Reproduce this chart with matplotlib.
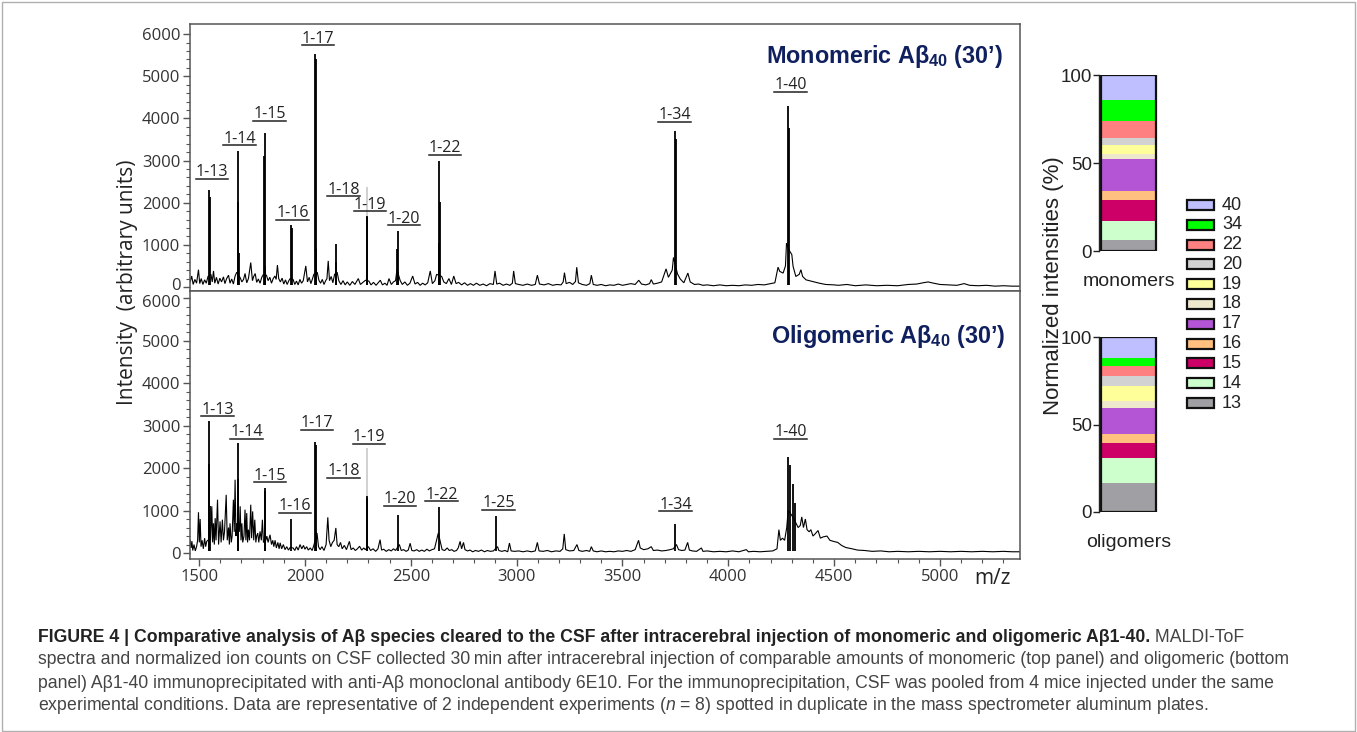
import numpy as np
import matplotlib
matplotlib.use('Agg')
import matplotlib.pyplot as plt
import matplotlib.transforms as mtransforms
from matplotlib.patches import Rectangle
from matplotlib.lines import Line2D

plt.rcParams['mathtext.fontset'] = 'custom'
plt.rcParams['mathtext.rm'] = 'Liberation Sans:bold'
plt.rcParams['mathtext.bf'] = 'Liberation Sans:bold'
plt.rcParams['mathtext.it'] = 'Liberation Sans:italic'

# ---------------- data: monomeric spectrum (top) ----------------
top_trace = [(1458,120),(1465,260),(1472,60),(1480,180),(1488,90),(1497,410),(1503,80),(1510,200),(1518,60),
    (1526,170),(1534,90),(1542,250),(1556,300),(1562,120),(1568,380),(1574,90),(1582,230),(1590,70),
    (1598,210),(1606,120),(1615,240),(1622,80),(1630,200),(1639,280),(1646,90),(1654,190),(1662,70),(1670,260),
    (1678,350),(1694,220),(1702,120),(1710,180),(1717,320),(1725,100),(1733,200),(1744,580),(1752,150),(1758,250),
    (1765,320),(1772,110),(1780,190),(1788,90),(1796,230),(1804,300),(1818,280),(1826,150),(1834,230),(1842,90),
    (1850,200),(1858,260),(1864,180),(1870,520),(1876,200),(1884,120),(1892,210),(1900,70),(1908,170),(1916,60),
    (1924,150),(1930,200),(1944,180),(1952,60),(1960,140),(1968,50),(1976,180),(1984,90),(1992,150),(2004,500),
    (2012,120),(2020,230),(2028,80),(2036,200),(2042,300),(2058,350),(2066,160),(2074,90),(2082,180),(2090,60),
    (2098,150),(2104,200),(2110,620),(2116,150),(2124,250),(2132,100),(2140,300),(2152,350),(2160,150),(2170,60),
    (2180,150),(2190,50),(2200,120),(2212,40),(2224,130),(2236,60),(2252,200),(2262,60),(2274,110),(2286,160),
    (2302,140),(2312,50),(2324,110),(2336,40),(2346,100),(2356,160),(2366,50),(2378,90),(2388,40),(2397,200),
    (2408,60),(2418,120),(2428,150),(2435,410),(2450,150),(2460,60),(2472,120),(2484,40),(2496,90),(2509,260),
    (2520,70),(2532,110),(2544,40),(2556,90),(2568,50),(2580,100),(2592,380),(2602,80),(2614,150),(2622,300),
    (2646,250),(2656,120),(2668,80),(2680,200),(2692,60),(2703,260),(2714,80),(2726,110),(2740,50),(2754,100),
    (2768,40),(2782,80),(2796,40),(2810,90),(2826,40),(2842,70),(2858,30),(2874,80),(2890,60),(2898,380),
    (2906,70),(2920,90),(2936,40),(2952,70),(2968,40),(2980,90),(2986,380),(2994,80),(3010,60),(3030,40),
    (3050,70),(3070,40),(3088,60),(3098,280),(3108,70),(3130,50),(3150,80),(3170,40),(3190,60),(3210,50),
    (3220,120),(3226,340),(3234,80),(3250,110),(3265,60),(3278,130),(3284,470),(3292,100),(3310,60),(3330,40),
    (3346,80),(3353,280),(3362,60),(3380,40),(3400,60),(3420,30),(3440,50),(3460,40),(3480,70),(3500,40),
    (3520,60),(3540,80),(3560,60),(3577,160),(3590,70),(3610,50),(3628,80),(3636,175),(3646,70),(3665,90),
    (3685,120),(3706,430),(3717,230),(3735,400),(3741,700),(3760,310),(3773,190),(3790,100),(3809,330),(3820,120),
    (3840,60),(3860,70),(3880,40),(3900,50),(3930,30),(3960,50),(3990,30),(4020,40),(4050,30),(4080,50),
    (4110,40),(4140,60),(4170,50),(4200,80),(4220,100),(4235,470),(4243,370),(4259,330),(4270,500),(4275,1040),
    (4290,850),(4300,770),(4306,490),(4319,250),(4335,300),(4343,410),(4351,250),(4367,170),(4398,130),(4430,90),
    (4460,60),(4500,50),(4520,40),(4560,60),(4600,30),(4650,50),(4700,30),(4750,40),(4800,30),(4850,60),
    (4890,70),(4920,100),(4944,120),(4970,90),(5000,60),(5040,50),(5080,40),(5114,80),(5140,40),(5180,30),
    (5220,40),(5260,20),(5300,30),(5340,20),(5380,20)]
top_peak_mz  = [1547, 1550, 1686, 1684, 1688, 1810, 1808, 1812, 1936, 1937, 2048, 2050, 2052, 2146, 2148,
                2294, 2295, 2439, 2437, 2441, 2635, 2636, 2633, 3749, 3751, 4282, 4285]
top_peak_int = [2310, 2130, 3220, 2020, 800, 3660, 3100, 500, 1460, 1400, 5530, 5400, 900, 1010, 600,
                1680, 1650, 1330, 900, 350, 3000, 2020, 1040, 3690, 3500, 4290, 3780]
top_labels    = ['1-13', '1-14', '1-15', '1-16', '1-17', '1-18', '1-19', '1-20', '1-22', '1-34', '1-40']
top_label_mz  = [1560, 1691, 1832, 1942, 2061, 2182, 2308, 2468, 2662, 3745, 4295]
top_label_int = [2727, 3518, 4095, 1755, 5889, 2308, 1953, 1621, 3296, 4079, 4790]

# ---------------- data: oligomeric spectrum (bottom) ----------------
bot_trace = [(1458,300),(1462,120),(1466,280),(1470,60),(1476,200),(1482,50),(1488,150),(1493,300),(1497,960),
    (1501,250),(1505,800),(1509,150),(1514,300),(1520,100),(1526,350),(1531,150),(1536,275),(1541,300),
    (1554,300),(1560,1100),(1564,250),(1568,700),(1572,200),(1576,820),(1580,300),(1587,1255),(1592,200),
    (1599,745),(1604,250),(1610,785),(1615,300),(1620,500),(1628,1370),(1633,300),(1639,600),(1643,200),
    (1646,700),(1652,250),(1656,400),(1662,1255),(1666,500),(1670,1725),(1674,400),(1678,700),(1690,500),
    (1694,1100),(1698,300),(1702,700),(1706,250),(1712,400),(1717,1020),(1721,300),(1725,940),(1729,250),
    (1733,550),(1738,300),(1744,1137),(1748,350),(1753,980),(1758,300),(1763,784),(1768,250),(1772,400),
    (1777,470),(1782,250),(1788,510),(1794,300),(1799,784),(1804,250),(1815,300),(1820,400),(1826,250),
    (1835,430),(1842,200),(1848,300),(1853,150),(1859,300),(1865,120),(1872,250),(1878,100),(1883,240),
    (1890,100),(1898,200),(1906,80),(1914,150),(1922,70),(1930,130),(1944,120),(1952,60),(1960,150),(1968,70),
    (1977,200),(1985,100),(1993,180),(2000,90),(2008,150),(2016,70),(2025,120),(2034,60),(2042,180),(2057,470),
    (2064,150),(2072,80),(2080,150),(2090,60),(2100,200),(2108,840),(2114,300),(2122,150),(2130,250),(2138,300),
    (2146,590),(2152,200),(2160,150),(2168,250),(2176,100),(2186,180),(2196,80),(2210,275),(2218,80),(2228,120),
    (2238,60),(2248,100),(2258,160),(2268,70),(2278,120),(2285,80),(2300,150),(2310,60),(2322,100),(2334,40),
    (2345,100),(2355,315),(2362,70),(2372,90),(2384,40),(2396,80),(2408,50),(2418,100),(2428,60),(2446,200),
    (2455,60),(2466,80),(2478,40),(2488,70),(2497,230),(2505,60),(2516,50),(2528,80),(2540,40),(2552,70),
    (2564,40),(2576,90),(2588,50),(2600,80),(2612,100),(2622,300),(2630,470),(2640,250),(2648,80),(2660,60),
    (2672,120),(2682,60),(2694,80),(2704,40),(2716,60),(2724,120),(2733,275),(2740,100),(2749,250),(2756,80),
    (2768,50),(2780,70),(2792,30),(2806,60),(2820,40),(2834,70),(2848,30),(2862,60),(2876,40),(2890,50),
    (2910,150),(2916,60),(2930,40),(2945,60),(2958,30),(2966,235),(2974,50),(2990,40),(3010,50),(3030,30),
    (3050,50),(3070,30),(3088,50),(3098,250),(3106,50),(3125,40),(3145,60),(3165,30),(3185,50),(3205,40),
    (3218,100),(3225,450),(3232,80),(3250,50),(3270,60),(3285,200),(3294,60),(3310,40),(3330,60),(3345,40),
    (3353,150),(3362,50),(3380,30),(3400,50),(3420,30),(3440,40),(3460,30),(3480,50),(3500,40),(3520,60),
    (3540,40),(3560,80),(3576,300),(3584,120),(3600,80),(3620,100),(3636,150),(3646,60),(3665,70),(3685,50),
    (3705,60),(3725,80),(3740,100),(3755,200),(3765,80),(3780,60),(3795,70),(3808,250),(3816,70),(3830,50),
    (3850,40),(3873,120),(3880,40),(3900,50),(3930,30),(3960,40),(3990,30),(4020,50),(4050,30),(4085,80),
    (4095,30),(4120,40),(4150,30),(4180,40),(4210,50),(4230,100),(4239,550),(4246,300),(4256,350),(4266,300),
    (4276,600),(4283,1000),(4298,900),(4310,800),(4320,700),(4330,600),(4340,650),(4347,850),(4355,600),
    (4364,800),(4372,550),(4382,500),(4390,550),(4400,400),(4410,450),(4424,530),(4435,350),(4448,380),
    (4466,400),(4480,300),(4500,270),(4517,250),(4535,180),(4555,130),(4585,100),(4610,70),(4644,60),(4680,40),
    (4720,50),(4760,30),(4800,40),(4850,30),(4900,40),(4950,30),(5000,40),(5050,30),(5100,40),(5150,30),
    (5200,40),(5250,30),(5300,40),(5340,30),(5380,30)]
bot_peak_mz  = [1547, 1549, 1551, 1684, 1682, 1686, 1809, 1810, 1936, 2048, 2050, 2052, 2292, 2293,
                2439, 2635, 2903, 3747, 4283, 4293, 4305, 4313]
bot_peak_int = [3100, 2090, 1100, 2590, 1740, 1000, 1530, 1450, 800, 2610, 2550, 500, 1350, 1300,
                890, 1075, 880, 675, 2260, 2060, 1630, 1180]
bot_labels    = ['1-13', '1-14', '1-15', '1-16', '1-17', '1-18', '1-19', '1-20', '1-22', '1-25', '1-34', '1-40']
bot_label_mz  = [1587, 1725, 1835, 1953, 2056, 2182, 2303, 2450, 2646, 2914, 3750, 4295]
bot_label_int = [3373, 2847, 1820, 1098, 3059, 1922, 2722, 1271, 1373, 1176, 1137, 2847]

# faint grey artefact line above the 1-19 peak (m/z, from, to)
ghost_top = (2294, 1680, 2370)
ghost_bot = (2292, 1350, 2470)

# ---------------- data: normalized intensities ----------------
species    = ['13', '14', '15', '16', '17', '18', '19', '20', '22', '34', '40']
mono_pct   = [6.5, 10.5, 12.0, 5.1, 18.1, 3.0, 5.2, 3.8, 9.9, 11.6, 14.3]
oligo_pct  = [16.3, 14.8, 8.2, 5.1, 14.8, 4.2, 8.5, 5.7, 6.1, 4.3, 12.0]
sp_colors  = ['#A0A0A4', '#CCFFCC', '#CC0066', '#FFC080', '#B455D6', '#EEE8CC',
              '#FFFF99', '#D2D2D2', '#FF8080', '#00FF00', '#BFBFFF']

# ---------------- figure ----------------
W, H = 1357, 732
fig = plt.figure(figsize=(W / 100, H / 100), dpi=100)

def fx(px):
    return px / W

def fy(py):
    return 1 - py / H

TICKC = '#333333'
SPINEC = '#555555'
LAB_FONT = 'Open Sans'

ax1 = fig.add_axes([fx(190), fy(291), fx(1020) - fx(190), fy(24) - fy(291)])
ax2 = fig.add_axes([fx(190), fy(559), fx(1020) - fx(190), fy(291) - fy(559)])

for ax, trace, pmz, pint, ylim in [(ax1, top_trace, top_peak_mz, top_peak_int, (-95, 6240)),
                                   (ax2, bot_trace, bot_peak_mz, bot_peak_int, (-140, 6165))]:
    tmz, tint = np.array(trace).T
    ax.plot(tmz, tint, color='black', lw=0.8, solid_joinstyle='miter')
    ax.vlines(pmz, 50, pint, color='black', lw=1.3)
    ax.set_xlim(1457, 5378)
    ax.set_ylim(*ylim)
    ax.set_yticks(range(0, 6001, 1000))
    ax.set_yticks(range(0, 6001, 200), minor=True)
    ax.set_xticks(range(1500, 5001, 500))
    ax.set_xticks(range(1500, 5400, 100), minor=True)
    ax.tick_params(axis='y', which='major', direction='out', length=5, width=1, color=SPINEC,
                   labelsize=12, labelcolor=TICKC, pad=2)
    ax.tick_params(axis='y', which='minor', direction='out', length=3, width=0.8, color=SPINEC)
    for lab in ax.get_yticklabels():
        lab.set_fontfamily(LAB_FONT)
    for s in ax.spines.values():
        s.set_color(SPINEC)
        s.set_linewidth(1.1)

ax1.tick_params(axis='x', which='both', bottom=False, labelbottom=False)
ax2.tick_params(axis='x', which='major', direction='out', length=5, width=1, color=SPINEC,
                labelsize=12, labelcolor=TICKC, pad=2)
ax2.tick_params(axis='x', which='minor', direction='out', length=3, width=0.8, color=SPINEC)
for lab in ax2.get_xticklabels():
    lab.set_fontfamily(LAB_FONT)

# nudge the two touching tick labels at the panel junction apart a little
ax1.get_yticklabels()[0].set_transform(ax1.get_yticklabels()[0].get_transform() +
                                       mtransforms.ScaledTranslation(0, 2.5 / 72, fig.dpi_scale_trans))
ax2.get_yticklabels()[-1].set_transform(ax2.get_yticklabels()[-1].get_transform() +
                                        mtransforms.ScaledTranslation(0, -2.5 / 72, fig.dpi_scale_trans))

ax1.vlines([ghost_top[0]], ghost_top[1], ghost_top[2], color='#C8C8C8', lw=1.2)
ax2.vlines([ghost_bot[0]], ghost_bot[1], ghost_bot[2], color='#C8C8C8', lw=1.2)

label_texts = []
for ax, labs, lmz, lint in [(ax1, top_labels, top_label_mz, top_label_int),
                            (ax2, bot_labels, bot_label_mz, bot_label_int)]:
    for t, m, v in zip(labs, lmz, lint):
        label_texts.append(ax.text(m, v, t, ha='center', va='center', fontsize=11.5,
                                   family=LAB_FONT, color='#222222'))

ax1.text(0.9795, 0.88, 'Monomeric Aβ$_{40}$ (30’)', transform=ax1.transAxes, ha='right', va='center',
         fontsize=16.8, fontweight='bold', family='Liberation Sans', color='#10205E')
ax2.text(0.982, 0.832, 'Oligomeric Aβ$_{40}$ (30’)', transform=ax2.transAxes, ha='right', va='center',
         fontsize=16.8, fontweight='bold', family='Liberation Sans', color='#10205E')

fig.text(fx(127), fy(282), 'Intensity  (arbitrary units)', rotation=90, ha='center', va='center',
         fontsize=15, family=LAB_FONT, color='#222222')
fig.text(fx(992), fy(578), 'm/z', ha='center', va='center', fontsize=15, family=LAB_FONT, color='#222222')

# ---------------- stacked bars ----------------
axm = fig.add_axes([fx(1099), fy(251), fx(1158) - fx(1099), fy(75) - fy(251)])
axo = fig.add_axes([fx(1099), fy(512), fx(1158) - fx(1099), fy(337) - fy(512)])
for ax, vals, name in [(axm, mono_pct, 'monomers'), (axo, oligo_pct, 'oligomers')]:
    bottoms = np.concatenate([[0], np.cumsum(vals)[:-1]])
    ax.bar([0.5] * len(vals), vals, bottom=bottoms, width=0.93, color=sp_colors, edgecolor='none')
    ax.bar([0.5], [sum(vals)], width=0.93, color='none', edgecolor='#111111', linewidth=1.6)
    ax.set_xlim(0, 1)
    ax.set_ylim(0, 100)
    ax.set_yticks([0, 50, 100])
    ax.set_xticks([])
    for s in ['top', 'right', 'bottom']:
        ax.spines[s].set_visible(False)
    ax.spines['left'].set_color('#222222')
    ax.spines['left'].set_linewidth(1.0)
    ax.tick_params(axis='y', direction='out', length=4, width=1, color='#222222', labelsize=13.5,
                   labelcolor='#222222', pad=1)
    for lab in ax.get_yticklabels():
        lab.set_fontfamily('Liberation Sans')
    ax.patch.set_alpha(0)
    ax.set_xlabel(name, fontsize=14, family='Liberation Sans', color='#222222', labelpad=16)

fig.text(fx(1053), fy(286), 'Normalized intensities (%)', rotation=90, ha='center', va='center',
         fontsize=16, family='Liberation Sans', color='#222222')

# legend
for i, (sp, col) in enumerate(zip(species[::-1], sp_colors[::-1])):
    yc = 205 + i * 19.8
    fig.patches.append(Rectangle((fx(1187), fy(yc + 5)), fx(27), 10 / H, transform=fig.transFigure,
                                 facecolor=col, edgecolor='#111111', linewidth=1.6))
    fig.text(fx(1222), fy(yc), sp, ha='left', va='center', fontsize=13, family='Liberation Sans',
             color='#222222')

# ---------------- caption ----------------
cap_bold = 'FIGURE 4 | Comparative analysis of Aβ species cleared to the CSF after intracerebral injection of monomeric and oligomeric Aβ1-40.'
cap_lines = [' MALDI-ToF',
             'spectra and normalized ion counts on CSF collected 30\u2009min after intracerebral injection of comparable amounts of monomeric (top panel) and oligomeric (bottom',
             'panel) Aβ1-40 immunoprecipitated with anti-Aβ monoclonal antibody 6E10. For the immunoprecipitation, CSF was pooled from 4 mice injected under the same',
             'experimental conditions. Data are representative of 2 independent experiments ($n$ = 8) spotted in duplicate in the mass spectrometer aluminum plates.']
CAPFS = 12.7
tb = fig.text(fx(38), fy(637), cap_bold, ha='left', va='center', fontsize=CAPFS, fontweight='bold',
              family='Liberation Sans', color='#222222')
cap_objs = []
for k, line in enumerate(cap_lines[1:]):
    cap_objs.append(fig.text(fx(38), fy(660 + 23 * k), line, ha='left', va='center', fontsize=CAPFS,
                             family=['Liberation Sans', 'DejaVu Sans'], color='#444444'))

fig.patches.append(Rectangle((0.0015, 0.002), 0.997, 0.995, transform=fig.transFigure, facecolor='none',
                             edgecolor='#B0B0B0', linewidth=1.0))

fig.canvas.draw()
rend = fig.canvas.get_renderer()
inv = fig.transFigure.inverted()
bb = tb.get_window_extent(rend)
x0f, _ = inv.transform((bb.x1, bb.y0))
fig.text(x0f, fy(637), cap_lines[0], ha='left', va='center', fontsize=CAPFS, family='Liberation Sans',
         color='#444444')

for t in label_texts:
    b = t.get_window_extent(rend)
    (a0, b0) = inv.transform((b.x0, b.y0 + 1.5))
    (a1, _) = inv.transform((b.x1, b.y0 + 1.5))
    fig.lines.append(Line2D([a0, a1], [b0, b0], transform=fig.transFigure, color='#222222', lw=1.1))

fig.savefig('out.png', dpi=100)
